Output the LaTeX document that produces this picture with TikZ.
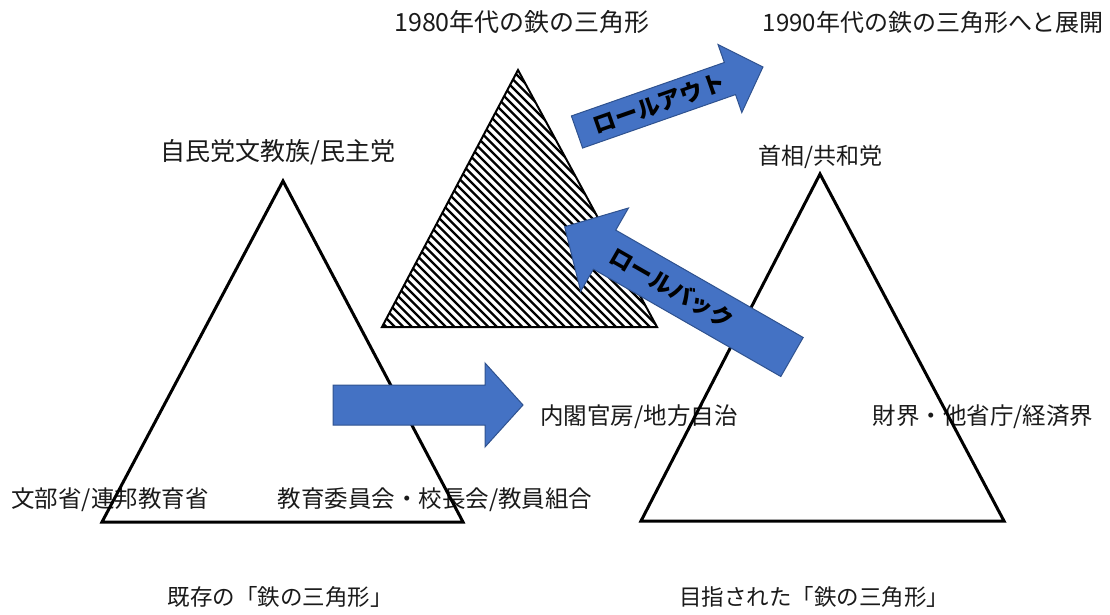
\documentclass[tikz,border=0pt]{standalone}
\usepackage{fontspec}
\setmainfont{Noto Sans CJK JP}
\definecolor{arrowfill}{HTML}{4472C4}
\definecolor{arrowline}{HTML}{2F528F}
\definecolor{txt}{HTML}{1A1A1A}
\tikzset{
  tri/.style={draw=black, line width=3pt, line join=miter},
  hatchtri/.style={draw=black, line width=2pt},
  blockarrow/.style={fill=arrowfill, draw=arrowline, line width=1pt, line join=miter},
  lbl/.style={inner sep=0pt, text=txt, font=\fontsize{#1}{#1}\selectfont},
  arrlbl/.style={inner sep=0pt, text=black, font=\bfseries\fontsize{#1}{#1}\selectfont},
}
\begin{document}
\begin{tikzpicture}[x=1pt,y=1pt]
\useasboundingbox (0,0) rectangle (1110,614);

% ---- labels ----
\node[lbl=25] (t80) at (522,592) {1980年代の鉄の三角形};
\node[lbl=24] (t90) at (933,592) {1990年代の鉄の三角形へと展開};
\node[lbl=25] (ldp) at (278,462) {自民党文教族/民主党};
\node[lbl=23] (pm)  at (820,457) {首相/共和党};
\node[lbl=23.5] (cab) at (639,197) {内閣官房/地方自治};
\node[lbl=23.5] (biz) at (983,197) {財界・他省庁/経済界};
\node[lbl=23.5] (mext) at (110,114) {文部省/連邦教育省};
\node[lbl=23.5] (board) at (435,114) {教育委員会・校長会/教員組合};
\node[lbl=22.5] (old) at (280,17) {既存の「鉄の三角形」};
\node[lbl=22.5] (new) at (814,17) {目指された「鉄の三角形」};

% ---- left triangle ----
\coordinate (LA) at (283,433);
\coordinate (LB) at (102,92);
\coordinate (LC) at (463,92);
\draw[tri] (LA) -- (LB) -- (LC) -- cycle;

% ---- right triangle ----
\coordinate (RA) at (820,440);
\coordinate (RB) at (641,93);
\coordinate (RC) at (1004,93);
\draw[tri] (RA) -- (RB) -- (RC) -- cycle;

% ---- hatched triangle ----
\coordinate (HA) at (518,544);
\coordinate (HB) at (382,287);
\coordinate (HC) at (657,287);
\begin{scope}
  \clip (HA) -- (HB) -- (HC) -- cycle;
  \foreach \c in {665,673.5,...,1070}
    \draw[line width=2.4pt] (\c-250,250) -- (\c-580,580);
\end{scope}
\draw[hatchtri] (HA) -- (HB) -- (HC) -- cycle;

% ---- horizontal arrow ----
\begin{scope}[shift={(333,209)}]
  \draw[blockarrow] (0,-20) -- (152,-20) -- (152,-42) -- (190,0) -- (152,42) -- (152,20) -- (0,20) -- cycle;
\end{scope}

% ---- roll-out arrow ----
\begin{scope}[shift={(577,482)}, rotate=19.27]
  \draw[blockarrow] (0,-17) -- (162,-17) -- (162,-36) -- (197,0) -- (162,36) -- (162,17) -- (0,17) -- cycle;
\end{scope}
\node[arrlbl=23, rotate=19.27] (rollout) at (659,510.5) {ロールアウト};

% ---- roll-back arrow ----
\begin{scope}[shift={(792,257)}, rotate=150.2]
  \draw[blockarrow] (0,-22.5) -- (216,-22.5) -- (216,-48) -- (262,0) -- (216,48) -- (216,22.5) -- (0,22.5) -- cycle;
\end{scope}
\node[arrlbl=23, rotate=-29.8] (rollback) at (672,326) {ロールバック};

\end{tikzpicture}
\end{document}
